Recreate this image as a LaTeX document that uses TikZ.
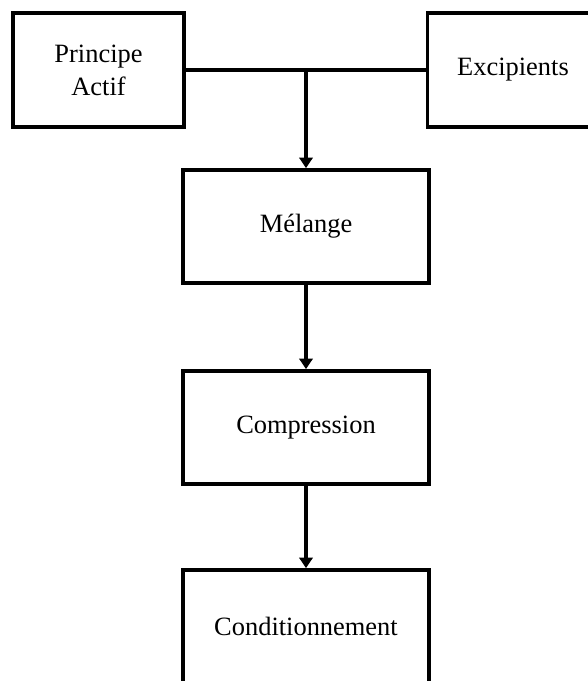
\documentclass[tikz,border=0pt]{standalone}
\usepackage{fontspec}
\setmainfont{Liberation Serif}
\usepackage{tikz}
\usetikzlibrary{arrows.meta,positioning}

\begin{document}
\begin{tikzpicture}[
    box/.style={rectangle, draw, line width=2.7pt, inner sep=0pt, align=center, font=\fontsize{18.8}{23.5}\selectfont},
    side/.style={box, minimum width=4.275cm, minimum height=2.85cm},
    stage/.style={box, minimum width=6.15cm, minimum height=2.825cm},
    link/.style={line width=2.5pt},
    arrow/.style={link, -{Triangle[width=9.5pt,length=7.5pt]}}
]
\useasboundingbox (0,0) rectangle (14.7,-17.025);

% Nodes
\node[side]  (actif) at (2.4625, -1.75)    {Principe\\Actif};
\node[side]  (excip) at (12.825, -1.75)    {Excipients};
\node[stage] (melange) at (7.65, -5.6625)  {Mélange};
\node[stage] (compr)   at (7.65, -10.6875) {Compression};
\node[stage] (cond)    at (7.65, -15.6625) {Conditionnement};
\coordinate (join) at (7.65, -1.75);

% Arrows
\draw[link]  (actif) -- (excip);
\draw[arrow] (join)    -- (melange);
\draw[arrow] (melange) -- (compr);
\draw[arrow] (compr)   -- (cond);

\end{tikzpicture}
\end{document}
